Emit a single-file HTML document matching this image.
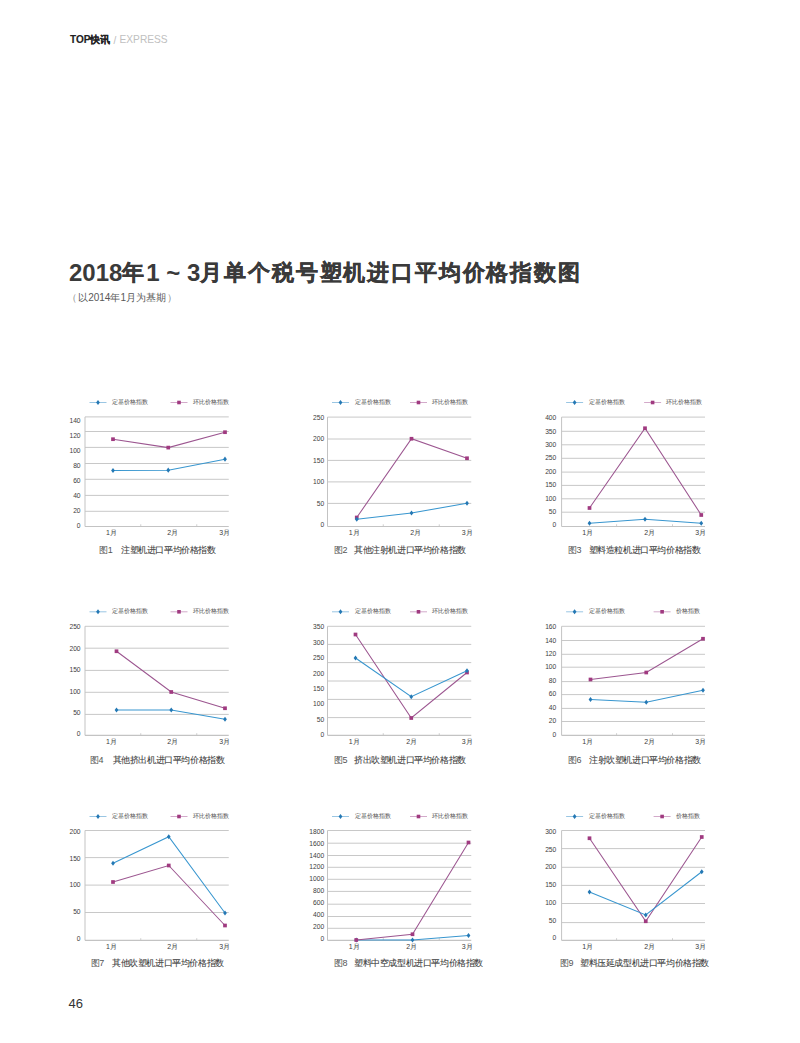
<!DOCTYPE html>
<html><head><meta charset="utf-8"><style>
html,body{margin:0;padding:0;background:#fff;}
body{width:800px;height:1043px;position:relative;overflow:hidden;font-family:'Liberation Sans', sans-serif;}
.abs{position:absolute;white-space:nowrap;line-height:1;}
svg{position:absolute;left:0;top:0;}
.cj{font-size:22px;letter-spacing:1.85px;position:relative;top:-0.8px;-webkit-text-stroke:0.35px #3a3a3a;}
svg text{font-family:'Liberation Sans', sans-serif;}
.yl{font-size:6.7px;fill:#3c3c3c;}
.xl{font-size:7px;fill:#3c3c3c;}
.lg{font-size:6px;fill:#5c5c5c;stroke:#5c5c5c;stroke-width:0.06px;}
.cap{font-size:9px;fill:#3c3c3c;stroke:#3c3c3c;stroke-width:0.08px;letter-spacing:-0.4px;}
.capn{font-size:9px;fill:#555;letter-spacing:-0.4px;}
</style></head><body>
<div class="abs" style="left:70px;top:35px;font-size:10px;font-weight:bold;color:#222;-webkit-text-stroke:0.15px #222;">TOP快讯</div>
<div class="abs" style="left:113.5px;top:35.5px;font-size:10px;color:#bbb;">/</div>
<div class="abs" style="left:119.5px;top:35px;font-size:10.2px;color:#c0c0c0;">EXPRESS</div>
<div class="abs" style="left:69px;top:260.5px;font-size:24px;font-weight:bold;color:#3a3a3a;">2018<span class="cj">年</span>1 ~ 3<span class="cj">月单个税号塑机进口平均价格指数图</span></div>
<div class="abs" style="left:66.5px;top:293px;font-size:10px;color:#888;">（</div>
<div class="abs" style="left:78.2px;top:293px;font-size:10px;color:#585858;">以2014年1月为基期</div>
<div class="abs" style="left:167px;top:293px;font-size:10px;color:#888;">）</div>
<div class="abs" style="left:68.5px;top:997px;font-size:13px;color:#333;">46</div>
<svg width="800" height="1043" viewBox="0 0 800 1043">
<line x1="85.0" y1="416.9" x2="228.75" y2="416.9" stroke="#c8c8c8" stroke-width="1"/>
<line x1="85.0" y1="431.5" x2="228.75" y2="431.5" stroke="#c8c8c8" stroke-width="1"/>
<line x1="85.0" y1="447.4" x2="228.75" y2="447.4" stroke="#c8c8c8" stroke-width="1"/>
<line x1="85.0" y1="463.5" x2="228.75" y2="463.5" stroke="#c8c8c8" stroke-width="1"/>
<line x1="85.0" y1="479.3" x2="228.75" y2="479.3" stroke="#c8c8c8" stroke-width="1"/>
<line x1="85.0" y1="495.4" x2="228.75" y2="495.4" stroke="#c8c8c8" stroke-width="1"/>
<line x1="85.0" y1="511.3" x2="228.75" y2="511.3" stroke="#c8c8c8" stroke-width="1"/>
<line x1="85.0" y1="416.9" x2="85.0" y2="526.5" stroke="#c3c3c3" stroke-width="1"/>
<line x1="85.0" y1="526.5" x2="228.75" y2="526.5" stroke="#c3c3c3" stroke-width="1.2"/>
<line x1="140.75" y1="524.3" x2="140.75" y2="526.5" stroke="#c3c3c3" stroke-width="0.8"/>
<line x1="196.75" y1="524.3" x2="196.75" y2="526.5" stroke="#c3c3c3" stroke-width="0.8"/>
<text x="80.6" y="423.30" text-anchor="end" class="yl">140</text>
<text x="80.6" y="437.90" text-anchor="end" class="yl">120</text>
<text x="80.6" y="452.90" text-anchor="end" class="yl">100</text>
<text x="80.6" y="468.20" text-anchor="end" class="yl">80</text>
<text x="80.6" y="482.80" text-anchor="end" class="yl">60</text>
<text x="80.6" y="497.80" text-anchor="end" class="yl">40</text>
<text x="80.6" y="513.10" text-anchor="end" class="yl">20</text>
<text x="80.6" y="527.50" text-anchor="end" class="yl">0</text>
<text x="111.40" y="534.60" text-anchor="middle" class="xl">1月</text>
<text x="172.70" y="534.60" text-anchor="middle" class="xl">2月</text>
<text x="224.60" y="534.60" text-anchor="middle" class="xl">3月</text>
<polyline points="113,439.2 168.25,447.6 225,432.2" fill="none" stroke="#9c5690" stroke-width="1.05"/>
<rect x="111.15" y="437.35" width="3.7" height="3.7" fill="#a03a80"/>
<rect x="166.40" y="445.75" width="3.7" height="3.7" fill="#a03a80"/>
<rect x="223.15" y="430.35" width="3.7" height="3.7" fill="#a03a80"/>
<polyline points="113,470.5 168.25,470.2 225,459.2" fill="none" stroke="#3896cf" stroke-width="1.05"/>
<path d="M113.00 467.90 L114.90 470.50 L113.00 473.10 L111.10 470.50Z" fill="#2478b4"/>
<path d="M168.25 467.60 L170.15 470.20 L168.25 472.80 L166.35 470.20Z" fill="#2478b4"/>
<path d="M225.00 456.60 L226.90 459.20 L225.00 461.80 L223.10 459.20Z" fill="#2478b4"/>
<line x1="89.5" y1="402.5" x2="106.5" y2="402.5" stroke="#80b8dc" stroke-width="0.8"/>
<path d="M98.00 400.00 L99.90 402.50 L98.00 405.00 L96.10 402.50Z" fill="#2478b4"/>
<text x="112.0" y="404.0" class="lg">定基价格指数</text>
<line x1="170.5" y1="402.5" x2="187.5" y2="402.5" stroke="#c894bc" stroke-width="0.8"/>
<rect x="177.20" y="400.70" width="3.6" height="3.6" fill="#a03a80"/>
<text x="193.0" y="404.0" class="lg">环比价格指数</text>
<text x="99.1" y="553.2" class="capn">图1</text>
<text x="121.0" y="553.2" class="cap">注塑机进口平均价格指数</text>
<line x1="327.5" y1="417.1" x2="471.25" y2="417.1" stroke="#c8c8c8" stroke-width="1"/>
<line x1="327.5" y1="439.0" x2="471.25" y2="439.0" stroke="#c8c8c8" stroke-width="1"/>
<line x1="327.5" y1="460.4" x2="471.25" y2="460.4" stroke="#c8c8c8" stroke-width="1"/>
<line x1="327.5" y1="481.9" x2="471.25" y2="481.9" stroke="#c8c8c8" stroke-width="1"/>
<line x1="327.5" y1="503.4" x2="471.25" y2="503.4" stroke="#c8c8c8" stroke-width="1"/>
<line x1="327.5" y1="417.1" x2="327.5" y2="526.5" stroke="#c3c3c3" stroke-width="1"/>
<line x1="327.5" y1="526.5" x2="471.25" y2="526.5" stroke="#c3c3c3" stroke-width="1.2"/>
<line x1="383.25" y1="524.3" x2="383.25" y2="526.5" stroke="#c3c3c3" stroke-width="0.8"/>
<line x1="439.25" y1="524.3" x2="439.25" y2="526.5" stroke="#c3c3c3" stroke-width="0.8"/>
<text x="324.2" y="420.20" text-anchor="end" class="yl">250</text>
<text x="324.2" y="441.20" text-anchor="end" class="yl">200</text>
<text x="324.2" y="462.80" text-anchor="end" class="yl">150</text>
<text x="324.2" y="484.30" text-anchor="end" class="yl">100</text>
<text x="324.2" y="505.60" text-anchor="end" class="yl">50</text>
<text x="324.2" y="526.90" text-anchor="end" class="yl">0</text>
<text x="354.20" y="534.60" text-anchor="middle" class="xl">1月</text>
<text x="415.70" y="534.60" text-anchor="middle" class="xl">2月</text>
<text x="467.10" y="534.60" text-anchor="middle" class="xl">3月</text>
<polyline points="356.75,517.5 411.5,438.75 467,458.25" fill="none" stroke="#9c5690" stroke-width="1.05"/>
<rect x="354.90" y="515.65" width="3.7" height="3.7" fill="#a03a80"/>
<rect x="409.65" y="436.90" width="3.7" height="3.7" fill="#a03a80"/>
<rect x="465.15" y="456.40" width="3.7" height="3.7" fill="#a03a80"/>
<polyline points="356.75,519.25 411.5,513.0 467,503.25" fill="none" stroke="#3896cf" stroke-width="1.05"/>
<path d="M356.75 516.65 L358.65 519.25 L356.75 521.85 L354.85 519.25Z" fill="#2478b4"/>
<path d="M411.50 510.40 L413.40 513.00 L411.50 515.60 L409.60 513.00Z" fill="#2478b4"/>
<path d="M467.00 500.65 L468.90 503.25 L467.00 505.85 L465.10 503.25Z" fill="#2478b4"/>
<line x1="332.0" y1="402.5" x2="349.0" y2="402.5" stroke="#80b8dc" stroke-width="0.8"/>
<path d="M340.50 400.00 L342.40 402.50 L340.50 405.00 L338.60 402.50Z" fill="#2478b4"/>
<text x="354.5" y="404.0" class="lg">定基价格指数</text>
<line x1="410.0" y1="402.5" x2="427.0" y2="402.5" stroke="#c894bc" stroke-width="0.8"/>
<rect x="416.70" y="400.70" width="3.6" height="3.6" fill="#a03a80"/>
<text x="432.0" y="404.0" class="lg">环比价格指数</text>
<text x="334.0" y="553.2" class="capn">图2</text>
<text x="354.0" y="553.2" class="cap">其他注射机进口平均价格指数</text>
<line x1="561.6" y1="417.1" x2="705.0" y2="417.1" stroke="#c8c8c8" stroke-width="1"/>
<line x1="561.6" y1="431.3" x2="705.0" y2="431.3" stroke="#c8c8c8" stroke-width="1"/>
<line x1="561.6" y1="444.8" x2="705.0" y2="444.8" stroke="#c8c8c8" stroke-width="1"/>
<line x1="561.6" y1="458.3" x2="705.0" y2="458.3" stroke="#c8c8c8" stroke-width="1"/>
<line x1="561.6" y1="472.1" x2="705.0" y2="472.1" stroke="#c8c8c8" stroke-width="1"/>
<line x1="561.6" y1="485.4" x2="705.0" y2="485.4" stroke="#c8c8c8" stroke-width="1"/>
<line x1="561.6" y1="498.8" x2="705.0" y2="498.8" stroke="#c8c8c8" stroke-width="1"/>
<line x1="561.6" y1="512.2" x2="705.0" y2="512.2" stroke="#c8c8c8" stroke-width="1"/>
<line x1="561.6" y1="417.1" x2="561.6" y2="526.5" stroke="#c3c3c3" stroke-width="1"/>
<line x1="561.6" y1="526.5" x2="705.0" y2="526.5" stroke="#c3c3c3" stroke-width="1.2"/>
<line x1="616.6" y1="524.3" x2="616.6" y2="526.5" stroke="#c3c3c3" stroke-width="0.8"/>
<line x1="672.5" y1="524.3" x2="672.5" y2="526.5" stroke="#c3c3c3" stroke-width="0.8"/>
<text x="556.3" y="420.20" text-anchor="end" class="yl">400</text>
<text x="556.3" y="433.70" text-anchor="end" class="yl">350</text>
<text x="556.3" y="446.90" text-anchor="end" class="yl">300</text>
<text x="556.3" y="460.20" text-anchor="end" class="yl">250</text>
<text x="556.3" y="474.00" text-anchor="end" class="yl">200</text>
<text x="556.3" y="487.20" text-anchor="end" class="yl">150</text>
<text x="556.3" y="500.80" text-anchor="end" class="yl">100</text>
<text x="556.3" y="513.90" text-anchor="end" class="yl">50</text>
<text x="556.3" y="527.20" text-anchor="end" class="yl">0</text>
<text x="587.70" y="534.60" text-anchor="middle" class="xl">1月</text>
<text x="649.70" y="534.60" text-anchor="middle" class="xl">2月</text>
<text x="700.70" y="534.60" text-anchor="middle" class="xl">3月</text>
<polyline points="589.5,508 645,428.25 701.25,515" fill="none" stroke="#9c5690" stroke-width="1.05"/>
<rect x="587.65" y="506.15" width="3.7" height="3.7" fill="#a03a80"/>
<rect x="643.15" y="426.40" width="3.7" height="3.7" fill="#a03a80"/>
<rect x="699.40" y="513.15" width="3.7" height="3.7" fill="#a03a80"/>
<polyline points="589.5,523.25 645,519.25 701.25,523.25" fill="none" stroke="#3896cf" stroke-width="1.05"/>
<path d="M589.50 520.65 L591.40 523.25 L589.50 525.85 L587.60 523.25Z" fill="#2478b4"/>
<path d="M645.00 516.65 L646.90 519.25 L645.00 521.85 L643.10 519.25Z" fill="#2478b4"/>
<path d="M701.25 520.65 L703.15 523.25 L701.25 525.85 L699.35 523.25Z" fill="#2478b4"/>
<line x1="566.1" y1="402.5" x2="583.1" y2="402.5" stroke="#80b8dc" stroke-width="0.8"/>
<path d="M574.60 400.00 L576.50 402.50 L574.60 405.00 L572.70 402.50Z" fill="#2478b4"/>
<text x="588.6" y="404.0" class="lg">定基价格指数</text>
<line x1="644.1" y1="402.5" x2="661.1" y2="402.5" stroke="#c894bc" stroke-width="0.8"/>
<rect x="650.80" y="400.70" width="3.6" height="3.6" fill="#a03a80"/>
<text x="666.1" y="404.0" class="lg">环比价格指数</text>
<text x="568.0" y="553.2" class="capn">图3</text>
<text x="588.6" y="553.2" class="cap">塑料造粒机进口平均价格指数</text>
<line x1="85.0" y1="626.3" x2="228.75" y2="626.3" stroke="#c8c8c8" stroke-width="1"/>
<line x1="85.0" y1="648.2" x2="228.75" y2="648.2" stroke="#c8c8c8" stroke-width="1"/>
<line x1="85.0" y1="670.4" x2="228.75" y2="670.4" stroke="#c8c8c8" stroke-width="1"/>
<line x1="85.0" y1="692.3" x2="228.75" y2="692.3" stroke="#c8c8c8" stroke-width="1"/>
<line x1="85.0" y1="714.4" x2="228.75" y2="714.4" stroke="#c8c8c8" stroke-width="1"/>
<line x1="85.0" y1="626.3" x2="85.0" y2="735.4" stroke="#c3c3c3" stroke-width="1"/>
<line x1="85.0" y1="735.4" x2="228.75" y2="735.4" stroke="#c3c3c3" stroke-width="1.2"/>
<line x1="140.75" y1="733.1999999999999" x2="140.75" y2="735.4" stroke="#c3c3c3" stroke-width="0.8"/>
<line x1="196.75" y1="733.1999999999999" x2="196.75" y2="735.4" stroke="#c3c3c3" stroke-width="0.8"/>
<text x="80.6" y="629.30" text-anchor="end" class="yl">250</text>
<text x="80.6" y="650.60" text-anchor="end" class="yl">200</text>
<text x="80.6" y="672.10" text-anchor="end" class="yl">150</text>
<text x="80.6" y="693.50" text-anchor="end" class="yl">100</text>
<text x="80.6" y="715.00" text-anchor="end" class="yl">50</text>
<text x="80.6" y="736.30" text-anchor="end" class="yl">0</text>
<text x="111.40" y="743.60" text-anchor="middle" class="xl">1月</text>
<text x="172.70" y="743.60" text-anchor="middle" class="xl">2月</text>
<text x="224.60" y="743.60" text-anchor="middle" class="xl">3月</text>
<polyline points="116.5,651.25 171.25,692 225,708.25" fill="none" stroke="#9c5690" stroke-width="1.05"/>
<rect x="114.65" y="649.40" width="3.7" height="3.7" fill="#a03a80"/>
<rect x="169.40" y="690.15" width="3.7" height="3.7" fill="#a03a80"/>
<rect x="223.15" y="706.40" width="3.7" height="3.7" fill="#a03a80"/>
<polyline points="116.5,710 171.25,710 225,719.25" fill="none" stroke="#3896cf" stroke-width="1.05"/>
<path d="M116.50 707.40 L118.40 710.00 L116.50 712.60 L114.60 710.00Z" fill="#2478b4"/>
<path d="M171.25 707.40 L173.15 710.00 L171.25 712.60 L169.35 710.00Z" fill="#2478b4"/>
<path d="M225.00 716.65 L226.90 719.25 L225.00 721.85 L223.10 719.25Z" fill="#2478b4"/>
<line x1="89.5" y1="611.8" x2="106.5" y2="611.8" stroke="#80b8dc" stroke-width="0.8"/>
<path d="M98.00 609.30 L99.90 611.80 L98.00 614.30 L96.10 611.80Z" fill="#2478b4"/>
<text x="112.0" y="613.3" class="lg">定基价格指数</text>
<line x1="170.5" y1="611.8" x2="187.5" y2="611.8" stroke="#c894bc" stroke-width="0.8"/>
<rect x="177.20" y="610.00" width="3.6" height="3.6" fill="#a03a80"/>
<text x="193.0" y="613.3" class="lg">环比价格指数</text>
<text x="90.0" y="762.5" class="capn">图4</text>
<text x="112.6" y="762.5" class="cap">其他挤出机进口平均价格指数</text>
<line x1="327.5" y1="626.3" x2="471.25" y2="626.3" stroke="#c8c8c8" stroke-width="1"/>
<line x1="327.5" y1="644.4" x2="471.25" y2="644.4" stroke="#c8c8c8" stroke-width="1"/>
<line x1="327.5" y1="662.6" x2="471.25" y2="662.6" stroke="#c8c8c8" stroke-width="1"/>
<line x1="327.5" y1="681.0" x2="471.25" y2="681.0" stroke="#c8c8c8" stroke-width="1"/>
<line x1="327.5" y1="699.4" x2="471.25" y2="699.4" stroke="#c8c8c8" stroke-width="1"/>
<line x1="327.5" y1="717.6" x2="471.25" y2="717.6" stroke="#c8c8c8" stroke-width="1"/>
<line x1="327.5" y1="626.3" x2="327.5" y2="735.4" stroke="#c3c3c3" stroke-width="1"/>
<line x1="327.5" y1="735.4" x2="471.25" y2="735.4" stroke="#c3c3c3" stroke-width="1.2"/>
<line x1="383.25" y1="733.1999999999999" x2="383.25" y2="735.4" stroke="#c3c3c3" stroke-width="0.8"/>
<line x1="439.25" y1="733.1999999999999" x2="439.25" y2="735.4" stroke="#c3c3c3" stroke-width="0.8"/>
<text x="324.2" y="629.30" text-anchor="end" class="yl">350</text>
<text x="324.2" y="644.80" text-anchor="end" class="yl">300</text>
<text x="324.2" y="660.10" text-anchor="end" class="yl">250</text>
<text x="324.2" y="675.60" text-anchor="end" class="yl">200</text>
<text x="324.2" y="690.90" text-anchor="end" class="yl">150</text>
<text x="324.2" y="706.20" text-anchor="end" class="yl">100</text>
<text x="324.2" y="721.60" text-anchor="end" class="yl">50</text>
<text x="324.2" y="736.90" text-anchor="end" class="yl">0</text>
<text x="354.20" y="743.60" text-anchor="middle" class="xl">1月</text>
<text x="411.80" y="743.60" text-anchor="middle" class="xl">2月</text>
<text x="467.10" y="743.60" text-anchor="middle" class="xl">3月</text>
<polyline points="355.5,634.5 411.25,718 467,672.5" fill="none" stroke="#9c5690" stroke-width="1.05"/>
<rect x="353.65" y="632.65" width="3.7" height="3.7" fill="#a03a80"/>
<rect x="409.40" y="716.15" width="3.7" height="3.7" fill="#a03a80"/>
<rect x="465.15" y="670.65" width="3.7" height="3.7" fill="#a03a80"/>
<polyline points="355.5,658 411.25,696.75 467,670.75" fill="none" stroke="#3896cf" stroke-width="1.05"/>
<path d="M355.50 655.40 L357.40 658.00 L355.50 660.60 L353.60 658.00Z" fill="#2478b4"/>
<path d="M411.25 694.15 L413.15 696.75 L411.25 699.35 L409.35 696.75Z" fill="#2478b4"/>
<path d="M467.00 668.15 L468.90 670.75 L467.00 673.35 L465.10 670.75Z" fill="#2478b4"/>
<line x1="332.0" y1="611.8" x2="349.0" y2="611.8" stroke="#80b8dc" stroke-width="0.8"/>
<path d="M340.50 609.30 L342.40 611.80 L340.50 614.30 L338.60 611.80Z" fill="#2478b4"/>
<text x="354.5" y="613.3" class="lg">定基价格指数</text>
<line x1="410.0" y1="611.8" x2="427.0" y2="611.8" stroke="#c894bc" stroke-width="0.8"/>
<rect x="416.70" y="610.00" width="3.6" height="3.6" fill="#a03a80"/>
<text x="432.0" y="613.3" class="lg">环比价格指数</text>
<text x="334.0" y="762.5" class="capn">图5</text>
<text x="354.0" y="762.5" class="cap">挤出吹塑机进口平均价格指数</text>
<line x1="561.6" y1="626.3" x2="705.0" y2="626.3" stroke="#c8c8c8" stroke-width="1"/>
<line x1="561.6" y1="640.5" x2="705.0" y2="640.5" stroke="#c8c8c8" stroke-width="1"/>
<line x1="561.6" y1="654.3" x2="705.0" y2="654.3" stroke="#c8c8c8" stroke-width="1"/>
<line x1="561.6" y1="667.2" x2="705.0" y2="667.2" stroke="#c8c8c8" stroke-width="1"/>
<line x1="561.6" y1="681.6" x2="705.0" y2="681.6" stroke="#c8c8c8" stroke-width="1"/>
<line x1="561.6" y1="694.6" x2="705.0" y2="694.6" stroke="#c8c8c8" stroke-width="1"/>
<line x1="561.6" y1="708.4" x2="705.0" y2="708.4" stroke="#c8c8c8" stroke-width="1"/>
<line x1="561.6" y1="721.5" x2="705.0" y2="721.5" stroke="#c8c8c8" stroke-width="1"/>
<line x1="561.6" y1="626.3" x2="561.6" y2="735.4" stroke="#c3c3c3" stroke-width="1"/>
<line x1="561.6" y1="735.4" x2="705.0" y2="735.4" stroke="#c3c3c3" stroke-width="1.2"/>
<line x1="616.6" y1="733.1999999999999" x2="616.6" y2="735.4" stroke="#c3c3c3" stroke-width="0.8"/>
<line x1="672.5" y1="733.1999999999999" x2="672.5" y2="735.4" stroke="#c3c3c3" stroke-width="0.8"/>
<text x="556.3" y="629.10" text-anchor="end" class="yl">160</text>
<text x="556.3" y="642.90" text-anchor="end" class="yl">140</text>
<text x="556.3" y="656.00" text-anchor="end" class="yl">120</text>
<text x="556.3" y="669.40" text-anchor="end" class="yl">100</text>
<text x="556.3" y="682.80" text-anchor="end" class="yl">80</text>
<text x="556.3" y="696.30" text-anchor="end" class="yl">60</text>
<text x="556.3" y="709.90" text-anchor="end" class="yl">40</text>
<text x="556.3" y="723.10" text-anchor="end" class="yl">20</text>
<text x="556.3" y="736.60" text-anchor="end" class="yl">0</text>
<text x="587.70" y="743.60" text-anchor="middle" class="xl">1月</text>
<text x="649.70" y="743.60" text-anchor="middle" class="xl">2月</text>
<text x="700.70" y="743.60" text-anchor="middle" class="xl">3月</text>
<polyline points="590.5,679.5 646.25,672.5 703,638.75" fill="none" stroke="#9c5690" stroke-width="1.05"/>
<rect x="588.65" y="677.65" width="3.7" height="3.7" fill="#a03a80"/>
<rect x="644.40" y="670.65" width="3.7" height="3.7" fill="#a03a80"/>
<rect x="701.15" y="636.90" width="3.7" height="3.7" fill="#a03a80"/>
<polyline points="590.5,699.5 646.25,702.25 703,690.25" fill="none" stroke="#3896cf" stroke-width="1.05"/>
<path d="M590.50 696.90 L592.40 699.50 L590.50 702.10 L588.60 699.50Z" fill="#2478b4"/>
<path d="M646.25 699.65 L648.15 702.25 L646.25 704.85 L644.35 702.25Z" fill="#2478b4"/>
<path d="M703.00 687.65 L704.90 690.25 L703.00 692.85 L701.10 690.25Z" fill="#2478b4"/>
<line x1="566.1" y1="611.8" x2="583.1" y2="611.8" stroke="#80b8dc" stroke-width="0.8"/>
<path d="M574.60 609.30 L576.50 611.80 L574.60 614.30 L572.70 611.80Z" fill="#2478b4"/>
<text x="588.6" y="613.3" class="lg">定基价格指数</text>
<line x1="653.6" y1="611.8" x2="670.6" y2="611.8" stroke="#c894bc" stroke-width="0.8"/>
<rect x="660.30" y="610.00" width="3.6" height="3.6" fill="#a03a80"/>
<text x="676.1" y="613.3" class="lg">价格指数</text>
<text x="568.0" y="762.5" class="capn">图6</text>
<text x="589.0" y="762.5" class="cap">注射吹塑机进口平均价格指数</text>
<line x1="85.0" y1="830.5" x2="228.75" y2="830.5" stroke="#c8c8c8" stroke-width="1"/>
<line x1="85.0" y1="857.6" x2="228.75" y2="857.6" stroke="#c8c8c8" stroke-width="1"/>
<line x1="85.0" y1="885.1" x2="228.75" y2="885.1" stroke="#c8c8c8" stroke-width="1"/>
<line x1="85.0" y1="912.5" x2="228.75" y2="912.5" stroke="#c8c8c8" stroke-width="1"/>
<line x1="85.0" y1="830.5" x2="85.0" y2="940.4" stroke="#c3c3c3" stroke-width="1"/>
<line x1="85.0" y1="940.4" x2="228.75" y2="940.4" stroke="#c3c3c3" stroke-width="1.2"/>
<line x1="140.75" y1="938.1999999999999" x2="140.75" y2="940.4" stroke="#c3c3c3" stroke-width="0.8"/>
<line x1="196.75" y1="938.1999999999999" x2="196.75" y2="940.4" stroke="#c3c3c3" stroke-width="0.8"/>
<text x="80.6" y="834.10" text-anchor="end" class="yl">200</text>
<text x="80.6" y="860.50" text-anchor="end" class="yl">150</text>
<text x="80.6" y="887.20" text-anchor="end" class="yl">100</text>
<text x="80.6" y="913.90" text-anchor="end" class="yl">50</text>
<text x="80.6" y="940.70" text-anchor="end" class="yl">0</text>
<text x="111.40" y="948.60" text-anchor="middle" class="xl">1月</text>
<text x="172.70" y="948.60" text-anchor="middle" class="xl">2月</text>
<text x="224.60" y="948.60" text-anchor="middle" class="xl">3月</text>
<polyline points="113,882 168.75,865.5 225,925.5" fill="none" stroke="#9c5690" stroke-width="1.05"/>
<rect x="111.15" y="880.15" width="3.7" height="3.7" fill="#a03a80"/>
<rect x="166.90" y="863.65" width="3.7" height="3.7" fill="#a03a80"/>
<rect x="223.15" y="923.65" width="3.7" height="3.7" fill="#a03a80"/>
<polyline points="113,863.25 168.75,836.75 225,913" fill="none" stroke="#3896cf" stroke-width="1.05"/>
<path d="M113.00 860.65 L114.90 863.25 L113.00 865.85 L111.10 863.25Z" fill="#2478b4"/>
<path d="M168.75 834.15 L170.65 836.75 L168.75 839.35 L166.85 836.75Z" fill="#2478b4"/>
<path d="M225.00 910.40 L226.90 913.00 L225.00 915.60 L223.10 913.00Z" fill="#2478b4"/>
<line x1="89.5" y1="816.5" x2="106.5" y2="816.5" stroke="#80b8dc" stroke-width="0.8"/>
<path d="M98.00 814.00 L99.90 816.50 L98.00 819.00 L96.10 816.50Z" fill="#2478b4"/>
<text x="112.0" y="818.0" class="lg">定基价格指数</text>
<line x1="170.5" y1="816.5" x2="187.5" y2="816.5" stroke="#c894bc" stroke-width="0.8"/>
<rect x="177.20" y="814.70" width="3.6" height="3.6" fill="#a03a80"/>
<text x="193.0" y="818.0" class="lg">环比价格指数</text>
<text x="90.6" y="966.4000000000001" class="capn">图7</text>
<text x="112.0" y="966.4000000000001" class="cap">其他吹塑机进口平均价格指数</text>
<line x1="327.5" y1="830.5" x2="471.25" y2="830.5" stroke="#c8c8c8" stroke-width="1"/>
<line x1="327.5" y1="843.2" x2="471.25" y2="843.2" stroke="#c8c8c8" stroke-width="1"/>
<line x1="327.5" y1="855.5" x2="471.25" y2="855.5" stroke="#c8c8c8" stroke-width="1"/>
<line x1="327.5" y1="867.3" x2="471.25" y2="867.3" stroke="#c8c8c8" stroke-width="1"/>
<line x1="327.5" y1="879.3" x2="471.25" y2="879.3" stroke="#c8c8c8" stroke-width="1"/>
<line x1="327.5" y1="891.4" x2="471.25" y2="891.4" stroke="#c8c8c8" stroke-width="1"/>
<line x1="327.5" y1="904.2" x2="471.25" y2="904.2" stroke="#c8c8c8" stroke-width="1"/>
<line x1="327.5" y1="916.5" x2="471.25" y2="916.5" stroke="#c8c8c8" stroke-width="1"/>
<line x1="327.5" y1="928.3" x2="471.25" y2="928.3" stroke="#c8c8c8" stroke-width="1"/>
<line x1="327.5" y1="830.5" x2="327.5" y2="940.4" stroke="#c3c3c3" stroke-width="1"/>
<line x1="327.5" y1="940.4" x2="471.25" y2="940.4" stroke="#c3c3c3" stroke-width="1.2"/>
<line x1="383.25" y1="938.1999999999999" x2="383.25" y2="940.4" stroke="#c3c3c3" stroke-width="0.8"/>
<line x1="439.25" y1="938.1999999999999" x2="439.25" y2="940.4" stroke="#c3c3c3" stroke-width="0.8"/>
<text x="324.2" y="833.70" text-anchor="end" class="yl">1800</text>
<text x="324.2" y="845.80" text-anchor="end" class="yl">1600</text>
<text x="324.2" y="857.90" text-anchor="end" class="yl">1400</text>
<text x="324.2" y="869.40" text-anchor="end" class="yl">1200</text>
<text x="324.2" y="881.30" text-anchor="end" class="yl">1000</text>
<text x="324.2" y="893.20" text-anchor="end" class="yl">800</text>
<text x="324.2" y="905.10" text-anchor="end" class="yl">600</text>
<text x="324.2" y="916.90" text-anchor="end" class="yl">400</text>
<text x="324.2" y="928.90" text-anchor="end" class="yl">200</text>
<text x="324.2" y="940.70" text-anchor="end" class="yl">0</text>
<text x="354.20" y="948.60" text-anchor="middle" class="xl">1月</text>
<text x="411.80" y="948.60" text-anchor="middle" class="xl">2月</text>
<text x="467.10" y="948.60" text-anchor="middle" class="xl">3月</text>
<polyline points="356.25,940 412.5,940 468.5,935.5" fill="none" stroke="#3896cf" stroke-width="1.05"/>
<path d="M356.25 937.40 L358.15 940.00 L356.25 942.60 L354.35 940.00Z" fill="#2478b4"/>
<path d="M412.50 937.40 L414.40 940.00 L412.50 942.60 L410.60 940.00Z" fill="#2478b4"/>
<path d="M468.50 932.90 L470.40 935.50 L468.50 938.10 L466.60 935.50Z" fill="#2478b4"/>
<polyline points="356.25,940 412.5,934.25 468.5,842.5" fill="none" stroke="#9c5690" stroke-width="1.05"/>
<rect x="354.40" y="938.15" width="3.7" height="3.7" fill="#a03a80"/>
<rect x="410.65" y="932.40" width="3.7" height="3.7" fill="#a03a80"/>
<rect x="466.65" y="840.65" width="3.7" height="3.7" fill="#a03a80"/>
<line x1="332.0" y1="816.5" x2="349.0" y2="816.5" stroke="#80b8dc" stroke-width="0.8"/>
<path d="M340.50 814.00 L342.40 816.50 L340.50 819.00 L338.60 816.50Z" fill="#2478b4"/>
<text x="354.5" y="818.0" class="lg">定基价格指数</text>
<line x1="410.0" y1="816.5" x2="427.0" y2="816.5" stroke="#c894bc" stroke-width="0.8"/>
<rect x="416.70" y="814.70" width="3.6" height="3.6" fill="#a03a80"/>
<text x="432.0" y="818.0" class="lg">环比价格指数</text>
<text x="334.0" y="966.4000000000001" class="capn">图8</text>
<text x="354.0" y="966.4000000000001" class="cap">塑料中空成型机进口平均价格指数</text>
<line x1="561.6" y1="830.5" x2="705.0" y2="830.5" stroke="#c8c8c8" stroke-width="1"/>
<line x1="561.6" y1="848.6" x2="705.0" y2="848.6" stroke="#c8c8c8" stroke-width="1"/>
<line x1="561.6" y1="867.3" x2="705.0" y2="867.3" stroke="#c8c8c8" stroke-width="1"/>
<line x1="561.6" y1="885.4" x2="705.0" y2="885.4" stroke="#c8c8c8" stroke-width="1"/>
<line x1="561.6" y1="903.5" x2="705.0" y2="903.5" stroke="#c8c8c8" stroke-width="1"/>
<line x1="561.6" y1="922.6" x2="705.0" y2="922.6" stroke="#c8c8c8" stroke-width="1"/>
<line x1="561.6" y1="830.5" x2="561.6" y2="940.4" stroke="#c3c3c3" stroke-width="1"/>
<line x1="561.6" y1="940.4" x2="705.0" y2="940.4" stroke="#c3c3c3" stroke-width="1.2"/>
<line x1="616.6" y1="938.1999999999999" x2="616.6" y2="940.4" stroke="#c3c3c3" stroke-width="0.8"/>
<line x1="672.5" y1="938.1999999999999" x2="672.5" y2="940.4" stroke="#c3c3c3" stroke-width="0.8"/>
<text x="556.3" y="833.70" text-anchor="end" class="yl">300</text>
<text x="556.3" y="851.60" text-anchor="end" class="yl">250</text>
<text x="556.3" y="869.40" text-anchor="end" class="yl">200</text>
<text x="556.3" y="887.20" text-anchor="end" class="yl">150</text>
<text x="556.3" y="904.70" text-anchor="end" class="yl">100</text>
<text x="556.3" y="922.70" text-anchor="end" class="yl">50</text>
<text x="556.3" y="939.90" text-anchor="end" class="yl">0</text>
<text x="587.70" y="948.60" text-anchor="middle" class="xl">1月</text>
<text x="649.70" y="948.60" text-anchor="middle" class="xl">2月</text>
<text x="700.70" y="948.60" text-anchor="middle" class="xl">3月</text>
<polyline points="589.5,838.25 645.75,921.25 701.75,837" fill="none" stroke="#9c5690" stroke-width="1.05"/>
<rect x="587.65" y="836.40" width="3.7" height="3.7" fill="#a03a80"/>
<rect x="643.90" y="919.40" width="3.7" height="3.7" fill="#a03a80"/>
<rect x="699.90" y="835.15" width="3.7" height="3.7" fill="#a03a80"/>
<polyline points="589.5,892 645.75,915 701.75,871.75" fill="none" stroke="#3896cf" stroke-width="1.05"/>
<path d="M589.50 889.40 L591.40 892.00 L589.50 894.60 L587.60 892.00Z" fill="#2478b4"/>
<path d="M645.75 912.40 L647.65 915.00 L645.75 917.60 L643.85 915.00Z" fill="#2478b4"/>
<path d="M701.75 869.15 L703.65 871.75 L701.75 874.35 L699.85 871.75Z" fill="#2478b4"/>
<line x1="566.1" y1="816.5" x2="583.1" y2="816.5" stroke="#80b8dc" stroke-width="0.8"/>
<path d="M574.60 814.00 L576.50 816.50 L574.60 819.00 L572.70 816.50Z" fill="#2478b4"/>
<text x="588.6" y="818.0" class="lg">定基价格指数</text>
<line x1="653.6" y1="816.5" x2="670.6" y2="816.5" stroke="#c894bc" stroke-width="0.8"/>
<rect x="660.30" y="814.70" width="3.6" height="3.6" fill="#a03a80"/>
<text x="676.1" y="818.0" class="lg">价格指数</text>
<text x="560.0" y="966.4000000000001" class="capn">图9</text>
<text x="580.0" y="966.4000000000001" class="cap">塑料压延成型机进口平均价格指数</text>
</svg>
</body></html>
